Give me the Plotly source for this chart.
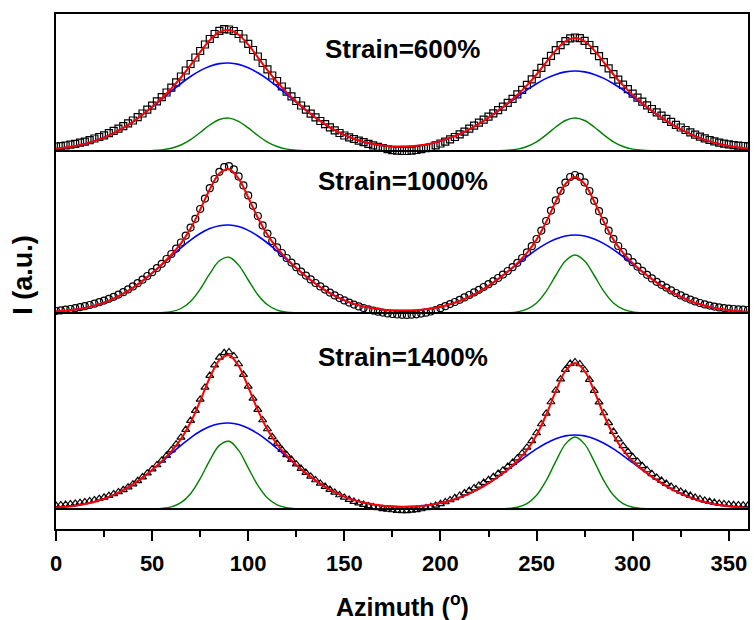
import numpy as np
import plotly.graph_objects as go

# ---------------- data (intensity above each panel's baseline, a.u.) ----------------
azimuth_fit = list(range(0, 361, 5))             # 73 points for fitted curves
azimuth_data = [i * 2.5 for i in range(145)]      # 145 measured points

labels = ["Strain=600%", "Strain=1000%", "Strain=1400%"]

# measured intensities
data_600 = [
    4.5, 4.8, 5.5, 6.3, 7.2, 8.3, 9.4, 10.8, 12.5, 14.0,
    15.6, 17.9, 20.2, 22.4, 24.8, 27.6, 30.5, 33.8, 37.5, 41.4,
    45.3, 49.6, 53.8, 58.5, 63.4, 68.6, 74.5, 80.5, 87.0, 93.5,
    100.0, 106.5, 112.0, 117.0, 120.2, 121.8, 121.5, 120.0, 117.0, 112.5,
    107.2, 101.0, 94.5, 88.0, 81.6, 75.5, 70.0, 64.5, 59.4, 54.6,
    50.0, 45.5, 41.4, 37.4, 33.6, 30.0, 26.8, 23.6, 20.6, 18.0,
    15.5, 13.6, 12.0, 10.3, 8.8, 7.2, 5.6, 4.2, 3.0, 1.8,
    0.9, 0.3, 0.0, 0.0, 0.4, 1.0, 1.8, 2.8, 4.0, 5.6,
    7.5, 9.4, 11.6, 14.0, 16.6, 19.4, 22.4, 25.4, 28.4, 31.4,
    34.4, 37.6, 40.8, 44.4, 48.2, 52.2, 56.6, 61.2, 66.2, 71.6,
    77.2, 83.2, 89.2, 95.2, 100.8, 105.8, 109.8, 112.6, 113.5, 112.8,
    110.2, 106.0, 100.8, 94.8, 88.8, 82.6, 76.8, 71.4, 66.4, 61.8,
    57.4, 53.3, 49.4, 45.6, 42.0, 38.6, 35.4, 32.2, 29.2, 26.2,
    23.5, 21.0, 18.6, 16.4, 14.4, 12.6, 11.0, 9.6, 8.4, 7.4,
    6.6, 5.9, 5.4, 5.0, 4.7,
]
data_1000 = [
    2.0, 2.6, 3.3, 4.0, 4.8, 5.8, 6.8, 8.0, 9.3, 10.8,
    12.4, 14.2, 16.2, 18.4, 20.8, 23.6, 26.6, 29.8, 33.3, 37.0,
    40.8, 44.9, 49.2, 54.0, 59.0, 64.4, 70.5, 77.4, 85.4, 94.2,
    104.0, 114.4, 124.8, 134.0, 141.2, 145.8, 146.8, 143.6, 136.6, 127.6,
    117.6, 107.2, 97.0, 87.6, 79.4, 72.0, 65.6, 60.0, 55.0, 50.4,
    45.8, 41.4, 37.4, 33.6, 30.0, 26.6, 23.4, 20.4, 17.6, 15.0,
    12.6, 10.4, 8.4, 6.6, 5.0, 3.6, 2.4, 1.3, 0.4, -0.4,
    -1.0, -1.5, -1.8, -1.9, -1.7, -1.3, -0.6, 0.3, 1.5, 3.0,
    4.8, 6.8, 8.9, 11.0, 13.2, 15.6, 18.0, 20.6, 23.2, 26.0,
    28.8, 31.8, 35.0, 38.4, 42.0, 45.8, 50.2, 55.0, 60.6, 66.8,
    74.0, 82.4, 92.0, 102.4, 112.6, 122.2, 130.4, 136.0, 138.0, 136.2,
    130.6, 122.0, 112.2, 101.8, 91.8, 82.4, 74.2, 67.0, 61.0, 55.6,
    50.8, 46.4, 42.2, 38.2, 34.6, 31.2, 28.2, 25.4, 22.6, 20.0,
    17.6, 15.4, 13.4, 11.6, 10.0, 8.6, 7.4, 6.4, 5.6, 4.9,
    4.4, 4.0, 3.6, 3.3, 3.0,
]
data_1400 = [
    3.6, 4.0, 4.4, 5.0, 5.6, 6.3, 7.1, 8.0, 9.1, 10.3,
    11.7, 13.3, 15.1, 17.0, 19.2, 21.8, 24.8, 28.2, 31.9, 35.8,
    39.8, 44.0, 48.6, 53.4, 58.8, 64.8, 71.6, 79.4, 88.4, 98.4,
    109.6, 121.6, 133.4, 143.8, 151.6, 156.2, 157.0, 153.0, 145.0, 134.4,
    122.6, 110.6, 99.4, 89.0, 80.0, 72.2, 65.4, 59.4, 54.2, 49.4,
    44.8, 40.4, 36.4, 32.6, 29.0, 25.6, 22.4, 19.4, 16.6, 14.0,
    11.6, 9.4, 7.4, 5.8, 4.4, 3.1, 2.0, 1.0, 0.2, -0.5,
    -1.0, -1.6, -2.0, -1.8, -1.3, -0.8, 0.0, 1.0, 2.2, 3.6,
    5.2, 7.0, 9.0, 11.2, 13.5, 15.9, 18.4, 21.0, 23.6, 26.4,
    29.2, 32.2, 35.4, 38.8, 42.4, 46.4, 50.8, 55.8, 61.6, 68.2,
    76.0, 85.0, 95.6, 107.0, 118.6, 129.8, 139.4, 145.4, 147.0, 145.0,
    139.0, 129.4, 118.4, 106.8, 96.0, 86.2, 77.4, 69.8, 63.2, 57.4,
    52.2, 47.6, 43.2, 39.0, 35.2, 31.6, 28.4, 25.4, 22.6, 20.0,
    17.6, 15.4, 13.4, 11.6, 10.0, 8.6, 7.4, 6.4, 5.6, 5.0,
    4.6, 4.2, 4.0, 3.8, 3.7,
]

# broad (blue) fitted component
blue_600 = [
    2.3, 3.4, 5.0, 7.1, 9.9, 13.4, 17.8, 23.1, 29.2, 36.2,
    43.8, 51.7, 59.8, 67.5, 74.5, 80.4, 84.8, 87.4, 88.0, 86.6,
    83.2, 78.2, 71.9, 64.5, 56.6, 48.5, 40.7, 33.3, 26.7, 20.8,
    16.1, 12.2, 9.1, 6.9, 5.4, 4.5, 4.4, 4.8, 5.8, 7.5,
    9.9, 13.1, 17.0, 21.6, 27.1, 33.3, 40.0, 47.1, 54.2, 61.1,
    67.3, 72.6, 76.6, 79.1, 80.0, 79.1, 76.6, 72.6, 67.3, 61.1,
    54.2, 47.1, 40.0, 33.3, 27.1, 21.6, 16.9, 12.9, 9.6, 7.0,
    5.0, 3.5, 2.4,
]
blue_1000 = [
    1.4, 2.2, 3.4, 5.1, 7.4, 10.4, 14.4, 19.3, 25.2, 32.1,
    39.9, 48.2, 56.8, 65.2, 72.9, 79.5, 84.4, 87.3, 88.0, 86.4,
    82.6, 77.0, 70.0, 61.9, 53.4, 44.8, 36.7, 29.3, 22.7, 17.2,
    12.7, 9.1, 6.5, 4.7, 3.3, 2.6, 2.4, 2.5, 3.2, 4.5,
    6.2, 8.8, 12.0, 16.2, 21.2, 27.2, 33.9, 41.2, 48.8, 56.3,
    63.3, 69.4, 74.0, 77.0, 78.0, 77.0, 74.0, 69.4, 63.3, 56.3,
    48.8, 41.2, 33.9, 27.2, 21.2, 16.2, 12.0, 8.7, 6.1, 4.2,
    2.8, 1.8, 1.2,
]
blue_1400 = [
    1.4, 2.2, 3.3, 5.0, 7.2, 10.2, 14.1, 18.9, 24.6, 31.4,
    39.0, 47.1, 55.5, 63.7, 71.2, 77.7, 82.5, 85.3, 86.0, 84.4,
    80.7, 75.3, 68.4, 60.5, 52.2, 43.8, 35.9, 28.6, 22.2, 16.8,
    12.4, 8.9, 6.4, 4.6, 3.2, 2.6, 2.3, 2.4, 3.1, 4.3,
    5.9, 8.3, 11.4, 15.4, 20.1, 25.8, 32.2, 39.1, 46.3, 53.4,
    60.1, 65.8, 70.2, 73.1, 74.0, 73.1, 70.2, 65.8, 60.1, 53.4,
    46.3, 39.1, 32.2, 25.8, 20.1, 15.4, 11.4, 8.3, 5.8, 4.0,
    2.7, 1.7, 1.1,
]

# narrow (green) fitted component
green_600 = [
    0, 0, 0, 0, 0, 0, 0, 0, 0, 0.1,
    0.4, 1.1, 2.7, 6.0, 11.3, 18.5, 26.0, 31.5, 32.9, 29.7,
    23.1, 15.5, 8.9, 4.5, 1.9, 0.7, 0.2, 0, 0, 0,
    0, 0, 0, 0, 0, 0, 0, 0, 0, 0,
    0, 0, 0, 0, 0, 0, 0.2, 0.7, 1.9, 4.5,
    9.2, 16.1, 24.0, 30.5, 33.0, 30.5, 24.0, 16.1, 9.2, 4.5,
    1.9, 0.7, 0.2, 0, 0, 0, 0, 0, 0, 0,
    0, 0, 0,
]
green_1000 = [
    0, 0, 0, 0, 0, 0, 0, 0, 0, 0,
    0.1, 0.4, 1.4, 4.5, 11.6, 23.8, 39.3, 52.2, 55.8, 47.9,
    33.0, 18.3, 8.2, 2.9, 0.8, 0.2, 0, 0, 0, 0,
    0, 0, 0, 0, 0, 0, 0, 0, 0, 0,
    0, 0, 0, 0, 0, 0, 0, 0.3, 1.1, 3.8,
    10.1, 21.7, 37.5, 52.0, 58.0, 52.0, 37.5, 21.7, 10.1, 3.8,
    1.1, 0.3, 0, 0, 0, 0, 0, 0, 0, 0,
    0, 0, 0,
]
green_1400 = [
    0, 0, 0, 0, 0, 0, 0, 0, 0, 0,
    0.1, 0.6, 2.1, 6.3, 15.3, 30.3, 48.7, 63.6, 67.7, 58.6,
    41.2, 23.6, 11.0, 4.2, 1.3, 0.3, 0, 0, 0, 0,
    0, 0, 0, 0, 0, 0, 0, 0, 0, 0,
    0, 0, 0, 0, 0, 0, 0.1, 0.5, 1.7, 5.4,
    13.8, 28.4, 47.6, 64.9, 72.0, 64.9, 47.6, 28.4, 13.8, 5.4,
    1.7, 0.5, 0.1, 0, 0, 0, 0, 0, 0, 0,
    0, 0, 0,
]

x_ticks = [0, 50, 100, 150, 200, 250, 300, 350]

# ---------------- layout constants ----------------
panel_base = [378, 216, 20]          # vertical offset of each stacked panel
label_y = [480, 348, 172]
symbols = ["square-open", "circle-open", "triangle-up-open"]
FONT = "Liberation Sans, Arial, sans-serif"

panels = [
    (data_600, blue_600, green_600),
    (data_1000, blue_1000, green_1000),
    (data_1400, blue_1400, green_1400),
]

fig = go.Figure()
for i, (meas, blue, green) in enumerate(panels):
    off = panel_base[i]
    meas_a = np.array(meas) + off
    blue_a = np.array(blue) + off
    green_a = np.array(green) + off
    red_a = np.array(blue) + np.array(green) + off   # cumulative fit
    fig.add_trace(go.Scatter(
        x=azimuth_data, y=meas_a, mode="markers",
        marker=dict(symbol=symbols[i], size=7, color="black",
                    line=dict(width=1.2, color="black")),
        hoverinfo="skip"))
    fig.add_trace(go.Scatter(
        x=azimuth_fit, y=blue_a, mode="lines",
        line=dict(color="#0000ff", width=1.6, shape="spline"), hoverinfo="skip"))
    fig.add_trace(go.Scatter(
        x=azimuth_fit, y=green_a, mode="lines",
        line=dict(color="#008000", width=1.4, shape="spline"), hoverinfo="skip"))
    fig.add_trace(go.Scatter(
        x=azimuth_fit, y=red_a, mode="lines",
        line=dict(color="#ff0000", width=2, shape="spline"), hoverinfo="skip"))
    fig.add_annotation(
        x=180.5, y=label_y[i], xref="x", yref="y", showarrow=False,
        text="<b>%s</b>" % labels[i],
        font=dict(family=FONT, size=26, color="black"))

# panel separators / baselines
for yb in [378, 216, 20]:
    fig.add_shape(type="line", xref="x", yref="y", x0=0, x1=360, y0=yb, y1=yb,
                  line=dict(color="black", width=2), layer="above")

fig.add_annotation(x=0.5, y=-0.147, xref="paper", yref="paper", showarrow=False,
                   text="<b>Azimuth (<sup>o</sup>)</b>",
                   font=dict(family=FONT, size=25, color="black"),
                   xanchor="center", yanchor="middle")
fig.add_annotation(x=-0.0476, y=0.494, xref="paper", yref="paper", showarrow=False,
                   text="<b>I (a.u.)</b>", textangle=-90,
                   font=dict(family=FONT, size=27, color="black"),
                   xanchor="center", yanchor="middle")

fig.update_layout(
    width=754, height=620,
    margin=dict(l=56, r=4, t=14, b=91),
    paper_bgcolor="white", plot_bgcolor="white",
    showlegend=False,
    xaxis=dict(range=[0, 360], tickvals=x_ticks, ticks="outside", ticklen=10,
               tickwidth=2, tickcolor="black", showline=True, linewidth=2,
               linecolor="black", mirror=True, showgrid=False, zeroline=False,
               ticklabelstandoff=4,
               tickfont=dict(family=FONT, size=22, color="black", weight="bold"),
               minor=dict(tick0=0, dtick=25, ticks="outside", ticklen=6,
                          tickwidth=1.5, tickcolor="black", showgrid=False)),
    yaxis=dict(range=[0, 515], showticklabels=False, ticks="", showline=True,
               linewidth=2, linecolor="black", mirror=True, showgrid=False,
               zeroline=False),
)

fig.write_html("out.html")
